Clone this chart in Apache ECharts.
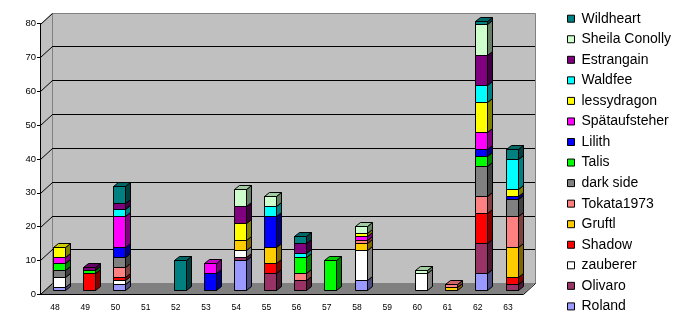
<!DOCTYPE html>
<html><head><meta charset="utf-8">
<script src="https://cdn.jsdelivr.net/npm/echarts@6/dist/echarts.min.js"></script>
<style>html,body{margin:0;padding:0;background:#fff}#c{width:690px;height:320px}</style>
</head><body><div id="c"></div>
<script>
// ---- data ----
const categories = ['48','49','50','51','52','53','54','55','56','57','58','59','60','61','62','63'];
const yTicks = [0,10,20,30,40,50,60,70,80];
const Roland        = [1,0,2,0,0,0,9,0,0,0,3,0,0,0,5,0];
const Olivaro       = [0,0,0,0,0,0,1,5,3,0,0,0,0,0,9,2];
const zauberer      = [3,0,1,0,0,0,2,0,0,0,9,0,5,0,0,0];
const Shadow        = [0,5,1,0,0,0,0,3,0,0,0,0,0,0,9,2];
const Gruftl        = [0,0,0,0,0,0,3,5,0,0,2,0,0,1,0,9];
const Tokata1973    = [0,0,3,0,0,0,0,0,2,0,1,0,0,1,5,9];
const darkSide      = [2,0,3,0,0,0,0,0,0,0,0,0,0,0,9,5];
const Talis         = [2,1,0,0,0,0,0,0,5,9,0,0,0,0,3,0];
const Lilith        = [0,0,3,0,0,5,0,9,0,0,0,0,0,0,2,1];
const Spaetaufsteher= [2,0,9,0,0,3,0,0,0,0,1,0,0,0,5,0];
const lessydragon   = [3,0,0,0,0,0,5,0,0,0,1,0,0,0,9,2];
const Waldfee       = [0,0,2,0,0,0,0,3,1,0,0,0,0,0,5,9];
const Estrangain    = [0,1,2,0,0,0,5,0,3,0,0,0,0,0,9,0];
const SheilaConolly = [0,0,0,0,0,0,5,3,0,0,2,0,1,0,9,0];
const Wildheart     = [0,0,5,0,9,0,0,0,2,0,0,0,0,0,1,3];

const seriesNames = ['Roland','Olivaro','zauberer','Shadow','Gruftl','Tokata1973','dark side','Talis','Lilith','Spätaufsteher','lessydragon','Waldfee','Estrangain','Sheila Conolly','Wildheart'];
const seriesValues = [Roland,Olivaro,zauberer,Shadow,Gruftl,Tokata1973,darkSide,Talis,Lilith,Spaetaufsteher,lessydragon,Waldfee,Estrangain,SheilaConolly,Wildheart];

// ---- style ----
const palette = ['#9999FF','#993366','#FFFFFF','#FF0000','#FFCC00','#FF8080','#808080','#00FF00','#0000FF','#FF00FF','#FFFF00','#00FFFF','#800080','#CCFFCC','#008080'];
const WALL_DX = 12, WALL_DY = 11;     // depth of the box
const SHIFT_X = 3.7, SHIFT_Y = 4;     // bar position inside depth
const BAR_DX = 5, BAR_DY = 4;         // bar depth
const BAR_RATIO = 0.397;
const BAR_SCALE = 0.995;
const FONT = "'Liberation Sans', Arial, sans-serif";

function shade(hex, f) {
  const n = parseInt(hex.slice(1), 16);
  const r = Math.round(((n >> 16) & 255) * f), g = Math.round(((n >> 8) & 255) * f), b = Math.round((n & 255) * f);
  return 'rgb(' + r + ',' + g + ',' + b + ')';
}
const snap = v => Math.round(v) + 0.5;

// stacked bases and topmost segment per category
const stackData = [];
const topIdx = categories.map((_, c) => {
  let t = -1;
  seriesValues.forEach((arr, s) => { if (arr[c] > 0) t = s; });
  return t;
});
const cum = categories.map(() => 0);
seriesValues.forEach((arr, s) => {
  const d = [];
  arr.forEach((v, c) => {
    if (v > 0) {
      d.push([c, cum[c], cum[c] + v, topIdx[c] === s ? 1 : 0]);
      cum[c] += v;
    }
  });
  stackData.push(d);
});

function barRender(si) {
  return function (params, api) {
    const c = api.value(0), b = api.value(1), t = api.value(2), isTop = api.value(3);
    const bw = api.size([1, 0])[0];
    const p0 = api.coord([c, 0]), pb = api.coord([c, b]), pt = api.coord([c, t]);
    const w = Math.round(bw * BAR_RATIO);
    const x0 = snap(p0[0] + SHIFT_X - w / 2), x1 = x0 + w;
    const yBase = p0[1] - SHIFT_Y;
    const yb = snap(yBase - (p0[1] - pb[1]) * BAR_SCALE);
    const yt = snap(yBase - (p0[1] - pt[1]) * BAR_SCALE);
    const col = palette[si];
    const st = { stroke: '#000', lineWidth: 1 };
    const children = [
      { type: 'rect', shape: { x: x0, y: yt, width: w, height: yb - yt }, style: Object.assign({ fill: col }, st) },
      { type: 'polygon', shape: { points: [[x1, yb], [x1, yt], [x1 + BAR_DX, yt - BAR_DY], [x1 + BAR_DX, yb - BAR_DY]] }, style: Object.assign({ fill: shade(col, 0.5) }, st) }
    ];
    if (isTop) {
      children.push({ type: 'polygon', shape: { points: [[x0, yt], [x1, yt], [x1 + BAR_DX, yt - BAR_DY], [x0 + BAR_DX, yt - BAR_DY]] }, style: Object.assign({ fill: shade(col, 0.8) }, st) });
    }
    return { type: 'group', children: children };
  };
}

function decorRender(params, api) {
  const bw = api.size([1, 0])[0];
  const pL = api.coord([0, 0]), pR = api.coord([categories.length - 1, 0]);
  const xl = Math.round(pL[0] - bw / 2), xr = Math.round(pR[0] + bw / 2);
  const yAt = v => Math.round(api.coord([0, v])[1]);
  const y0 = yAt(yTicks[0]), yT = yAt(yTicks[yTicks.length - 1]);
  const bx0 = xl + WALL_DX, bx1 = xr + WALL_DX;
  const ch = [];
  ch.push({ type: 'polygon', shape: { points: [[xl, y0], [xl, yT], [bx0, yT - WALL_DY], [bx0, y0 - WALL_DY]] }, style: { fill: '#C0C0C0' } });
  ch.push({ type: 'rect', shape: { x: bx0 + 0.5, y: yT - WALL_DY + 0.5, width: bx1 - bx0, height: y0 - yT }, style: { fill: '#C0C0C0', stroke: '#808080', lineWidth: 1 } });
  ch.push({ type: 'polygon', shape: { points: [[xl, y0 + 0.5], [xr, y0 + 0.5], [bx1, y0 - WALL_DY], [bx0, y0 - WALL_DY]] }, style: { fill: '#808080' } });
  yTicks.slice(1, -1).forEach(v => {
    const y = yAt(v) - WALL_DY + 0.5;
    ch.push({ type: 'line', shape: { x1: bx0, y1: y, x2: bx1, y2: y }, style: { stroke: '#000', lineWidth: 1 } });
  });
  yTicks.forEach(v => {
    const y = yAt(v) + 0.5;
    ch.push({ type: 'line', shape: { x1: xl + 0.5, y1: y, x2: bx0 + 0.5, y2: y - WALL_DY }, style: { stroke: '#000', lineWidth: 1 } });
  });
  ch.push({ type: 'line', shape: { x1: xr + 0.5, y1: y0 + 0.5, x2: bx1 + 0.5, y2: y0 - WALL_DY + 0.5 }, style: { stroke: '#000', lineWidth: 1 } });
  return { type: 'group', children: ch };
}

const series = [{
  type: 'custom', name: '_box', renderItem: decorRender, data: [[0, 0]],
  encode: { x: 0, y: 1 }, clip: false, silent: true, z: 1, animation: false
}];
seriesNames.forEach((name, s) => {
  series.push({
    type: 'custom', name: name, renderItem: barRender(s), data: stackData[s],
    encode: { x: 0, y: [1, 2] }, clip: false, z: 2 + s, animation: false,
    itemStyle: { color: palette[s], borderColor: '#000', borderWidth: 1 }
  });
});

const chart = echarts.init(document.getElementById('c'), null, { renderer: 'canvas' });
chart.setOption({
  animation: false,
  backgroundColor: '#fff',
  grid: { left: 40, right: 167, top: 23.5, bottom: 25.7 },
  xAxis: {
    type: 'category', data: categories, z: 30,
    axisLine: { lineStyle: { color: '#000', width: 1 } },
    axisTick: { length: 4, lineStyle: { color: '#000' } },
    axisLabel: { color: '#000', fontSize: 8.5, fontFamily: FONT, margin: 9 },
    splitLine: { show: false }
  },
  yAxis: {
    type: 'value', min: 0, max: 80, interval: 10, z: 30,
    axisLine: { show: true, lineStyle: { color: '#000', width: 1 } },
    axisTick: { show: true, length: 3, lineStyle: { color: '#000' } },
    axisLabel: { color: '#000', fontSize: 9.5, fontFamily: FONT, margin: 4 },
    splitLine: { show: false }
  },
  legend: {
    orient: 'vertical', left: 567, top: 11.7, height: 308, padding: 0,
    itemWidth: 7, itemHeight: 7, itemGap: 6.55,
    icon: 'rect', selectedMode: false,
    data: seriesNames.slice().reverse(),
    itemStyle: { borderColor: '#000', borderWidth: 1 },
    textStyle: { color: '#000', fontSize: 14, lineHeight: 14, fontFamily: FONT, padding: [0, 0, 0, 2] }
  },
  series: series
});
</script></body></html>
